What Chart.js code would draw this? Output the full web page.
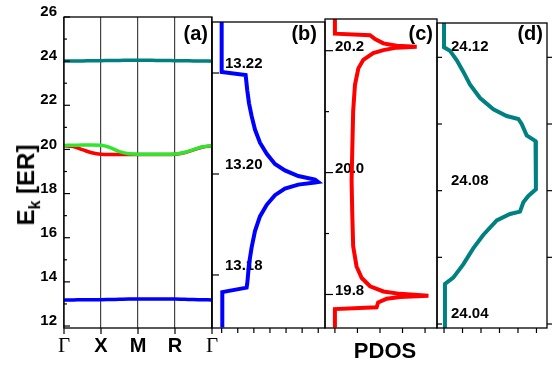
<!DOCTYPE html>
<html>
<head>
<meta charset="utf-8">
<script src="https://cdn.jsdelivr.net/npm/chart.js@4"></script>
<style>
body { margin: 0; background: #fff; }
#wrap { position: relative; width: 554px; height: 367px; font-family: 'Liberation Sans', Arial, sans-serif; color: #000; }
canvas { position: absolute; left: 0; top: 0; }
#ytitle { position: absolute; left: 28px; top: 185px; transform: translate(-50%, -50%) rotate(-90deg); font-weight: bold; font-size: 24px; white-space: nowrap; }
#ytitle sub { font-size: 16px; }
#pdos { position: absolute; left: 385px; top: 351px; transform: translate(-50%, -50%); font-weight: bold; font-size: 22px; }
.tag { position: absolute; top: 23px; font-weight: bold; font-size: 20px; line-height: 20px; }
</style>
</head>
<body>
<div id="wrap">
  <canvas id="pa" width="554" height="367"></canvas>
  <canvas id="pb" width="554" height="367"></canvas>
  <canvas id="pc" width="554" height="367"></canvas>
  <canvas id="pd" width="554" height="367"></canvas>
  <div id="ytitle">E<sub>k</sub> [ER]</div>
  <div id="pdos">PDOS</div>
  <div class="tag" style="right:346px">(a)</div>
  <div class="tag" style="right:237px">(b)</div>
  <div class="tag" style="right:121px">(c)</div>
  <div class="tag" style="right:11px">(d)</div>
</div>
<script>
// band structure (a)
const kLabels = ['Γ', 'X', 'M', 'R', 'Γ'];
const kTicks = [0, 1, 2, 3, 4];
const kPath = [0, 0.25, 0.5, 0.75, 1, 1.25, 1.5, 1.75, 2, 2.25, 2.5, 2.75, 3, 3.25, 3.5, 3.75, 4];
const bandTeal = [24.01, 24.01, 24.01, 24.02, 24.02, 24.03, 24.03, 24.04, 24.04, 24.04, 24.03, 24.03, 24.02, 24.02, 24.01, 24.01, 24.0];
const bandGreen = [20.18, 20.19, 20.2, 20.2, 20.19, 20.08, 19.9, 19.8, 19.78, 19.78, 19.78, 19.78, 19.79, 19.86, 19.99, 20.12, 20.17];
const bandRed = [20.17, 20.13, 19.99, 19.85, 19.78, 19.77, 19.77, 19.77, 19.77, 19.77, 19.77, 19.77, 19.78, 19.85, 19.98, 20.11, 20.16];
const bandBlue = [13.18, 13.18, 13.19, 13.19, 13.19, 13.2, 13.21, 13.22, 13.22, 13.22, 13.22, 13.22, 13.22, 13.21, 13.2, 13.19, 13.18];
const eTicksA = [12, 14, 16, 18, 20, 22, 24, 26];
const eMinorA = [13, 15, 17, 19, 21, 23, 25];

// PDOS (b)
const pdosB_E = [13.2302, 13.2202, 13.2196, 13.2166, 13.2140, 13.2115, 13.2088, 13.2062, 13.2040, 13.2020, 13.2007, 13.1996, 13.1989, 13.1984,
  13.1983, 13.1979, 13.1971, 13.1958, 13.1939, 13.1916, 13.1887, 13.1854, 13.1822, 13.1783, 13.1775, 13.1766, 13.1696];
const pdosB_D = [0, 0, 1.49, 1.59, 1.70, 1.86, 2.07, 2.38, 2.80, 3.31, 3.93, 4.76, 5.80, 6.00,
  5.80, 4.76, 3.93, 3.31, 2.80, 2.38, 2.07, 1.86, 1.70, 1.59, 1.55, 0.04, 0.04];
const eTicksB = [13.18, 13.20, 13.22];

// PDOS (c)
const pdosC_E = [20.252, 20.228, 20.2255, 20.219, 20.212, 20.208, 20.2065, 20.205, 20.201, 20.196, 20.185, 20.171, 20.144, 20.101, 20.036,
  19.987, 19.933, 19.879, 19.846, 19.827, 19.8135, 19.805, 19.801, 19.798, 19.796, 19.793, 19.787, 19.779, 19.776, 19.746];
const pdosC_D = [0, 0, 1.56, 1.78, 2.15, 2.74, 3.63, 2.74, 2.15, 1.70, 1.26, 1.04, 0.89, 0.81, 0.77,
  0.74, 0.77, 0.81, 0.96, 1.19, 1.56, 2.15, 2.89, 4.15, 2.89, 2.30, 1.92, 1.85, 0, 0];
const eTicksC = [19.8, 20.0, 20.2];
const eMinorC = [19.9, 20.1];

// PDOS (d)
const pdosD_E = [24.1303, 24.1230, 24.1220, 24.1191, 24.1157, 24.1118, 24.1078, 24.1044, 24.1024, 24.1015, 24.1000, 24.0966, 24.0949,
  24.0804, 24.0784, 24.0765, 24.0737, 24.0730, 24.0711, 24.0667, 24.0627, 24.0579, 24.0539, 24.0520, 24.0388];
const pdosD_D = [0, 0, 0.32, 0.69, 1.04, 1.41, 1.95, 2.67, 3.39, 4.02, 4.20, 4.47, 4.95,
  4.97, 4.56, 4.29, 4.11, 3.57, 2.85, 2.12, 1.58, 1.04, 0.50, 0.05, 0.05];
const eTicksD = [24.04, 24.08, 24.12];
const eAllD = [24.04, 24.06, 24.08, 24.10, 24.12];

// frame + short tick marks
function frameTicks(marks) {
  return {
    id: 'frameTicks',
    afterDatasetsDraw(chart) {
      const { ctx, chartArea: a, scales } = chart;
      ctx.save();
      ctx.strokeStyle = '#000';
      ctx.lineWidth = 1.3;
      ctx.strokeRect(a.left, a.top, a.right - a.left, a.bottom - a.top);
      ctx.lineWidth = 1.2;
      marks.forEach(m => {
        const s = scales[m.axis];
        m.values.forEach(v => {
          const p = s.getPixelForValue(v);
          ctx.beginPath();
          if (m.side === 'left') { ctx.moveTo(a.left, p); ctx.lineTo(a.left + m.len, p); }
          if (m.side === 'right') { ctx.moveTo(a.right, p); ctx.lineTo(a.right + m.len, p); }
          if (m.side === 'bottom') { ctx.moveTo(p, a.bottom); ctx.lineTo(p, a.bottom + m.len); }
          ctx.stroke();
        });
      });
      ctx.restore();
    }
  };
}

const boldFont = { family: "'Liberation Sans', Arial, sans-serif", size: 15, weight: 'bold' };

function pts(xs, ys) {
  return xs.map((x, i) => ({ x: x, y: ys[i] }));
}

function line(data, color, w) {
  return { data: data, borderColor: color, borderWidth: w, pointRadius: 0, fill: false, tension: 0 };
}

Chart.defaults.animation = false;
Chart.defaults.plugins.legend.display = false;
Chart.defaults.plugins.tooltip.enabled = false;

// (a)
new Chart(document.getElementById('pa'), {
  type: 'line',
  data: {
    datasets: [
      Object.assign(line(pts(kPath, bandGreen), '#2ee62e', 3.5), { cubicInterpolationMode: 'monotone' }),
      Object.assign(line(pts(kPath, bandRed), '#ff0000', 3.5), { cubicInterpolationMode: 'monotone' }),
      Object.assign(line(pts(kPath, bandTeal), '#008080', 3.5), { cubicInterpolationMode: 'monotone' }),
      Object.assign(line(pts(kPath, bandBlue), '#0000ff', 3.5), { cubicInterpolationMode: 'monotone' })
    ]
  },
  options: {
    responsive: false,
    layout: { padding: { left: 0, right: 342, top: 17, bottom: 0 } },
    scales: {
      x: {
        type: 'linear', min: 0, max: 4,
        afterFit: s => { s.height = 39; },
        afterBuildTicks: s => { s.ticks = kTicks.map(v => ({ value: v })); },
        grid: { drawTicks: false, color: '#444', lineWidth: 1.2 },
        border: { display: false },
        ticks: {
          autoSkip: false, maxRotation: 0, padding: 6, color: '#000',
          callback: (v, i) => kLabels[i],
          font: c => (c.index === 0 || c.index === 4)
            ? { family: "'Liberation Serif', serif", size: 21, weight: 'normal' }
            : { family: "'Liberation Sans', Arial, sans-serif", size: 20, weight: 'bold' }
        }
      },
      y: {
        type: 'linear', min: 11.91, max: 26,
        afterFit: s => { s.width = 64; },
        afterBuildTicks: s => { s.ticks = eTicksA.map(v => ({ value: v })); },
        grid: { display: false, drawTicks: false },
        border: { display: false },
        ticks: { autoSkip: false, padding: 7, labelOffset: -5, color: '#000', font: boldFont }
      }
    }
  },
  plugins: [frameTicks([
    { axis: 'y', side: 'left', len: 6, values: eTicksA },
    { axis: 'y', side: 'left', len: 3, values: eMinorA },
    { axis: 'x', side: 'bottom', len: 6, values: kTicks }
  ])]
});

// panels (b)-(d)
function pdosChart(id, padL, padR, xr, yr, data, color, labels, fmt, lblPad, lblOff, marks) {
  return new Chart(document.getElementById(id), {
    type: 'line',
    data: { datasets: [line(data, color, 4)] },
    options: {
      responsive: false,
      layout: { padding: { left: padL, right: padR, top: 17, bottom: 39 } },
      scales: {
        x: {
          type: 'linear', min: xr[0], max: xr[1],
          afterFit: s => { s.height = 0; },
          grid: { display: false, drawTicks: false },
          border: { display: false },
          ticks: { display: false }
        },
        y: {
          type: 'linear', min: yr[0], max: yr[1],
          afterFit: s => { s.width = 0; },
          afterBuildTicks: s => { s.ticks = labels.map(v => ({ value: v })); },
          grid: { display: false, drawTicks: false },
          border: { display: false },
          ticks: {
            mirror: true, padding: lblPad, labelOffset: lblOff, color: '#000', font: boldFont,
            callback: v => v.toFixed(fmt)
          }
        }
      }
    },
    plugins: [frameTicks(marks)]
  });
}

pdosChart('pb', 212, 229, [-0.6, 6.42], [13.1695, 13.2301], pts(pdosB_D, pdosB_E), '#0000ff',
  eTicksB, 2, 13, -9, [
    { axis: 'y', side: 'left', len: 7, values: eTicksB },
    { axis: 'x', side: 'bottom', len: 5, values: [0, 1, 2, 3, 4, 5, 6] }
  ]);

pdosChart('pc', 325, 117, [-0.44, 4.53], [19.745, 20.252], pts(pdosC_D, pdosC_E), '#ff0000',
  eTicksC, 1, 10, -4, [
    { axis: 'y', side: 'left', len: 8, values: eTicksC },
    { axis: 'y', side: 'left', len: 4, values: eMinorC },
    { axis: 'x', side: 'bottom', len: 5, values: [0, 1, 2, 3, 4] }
  ]);

pdosChart('pd', 437, 7, [-0.38, 5.57], [24.0388, 24.1303], pts(pdosD_D, pdosD_E), '#008080',
  eTicksD, 2, 14, -10, [
    { axis: 'y', side: 'left', len: 5, values: eAllD },
    { axis: 'y', side: 'right', len: 5, values: eAllD },
    { axis: 'x', side: 'bottom', len: 5, values: [0, 1, 2, 3, 4, 5] }
  ]);
</script>
</body>
</html>
